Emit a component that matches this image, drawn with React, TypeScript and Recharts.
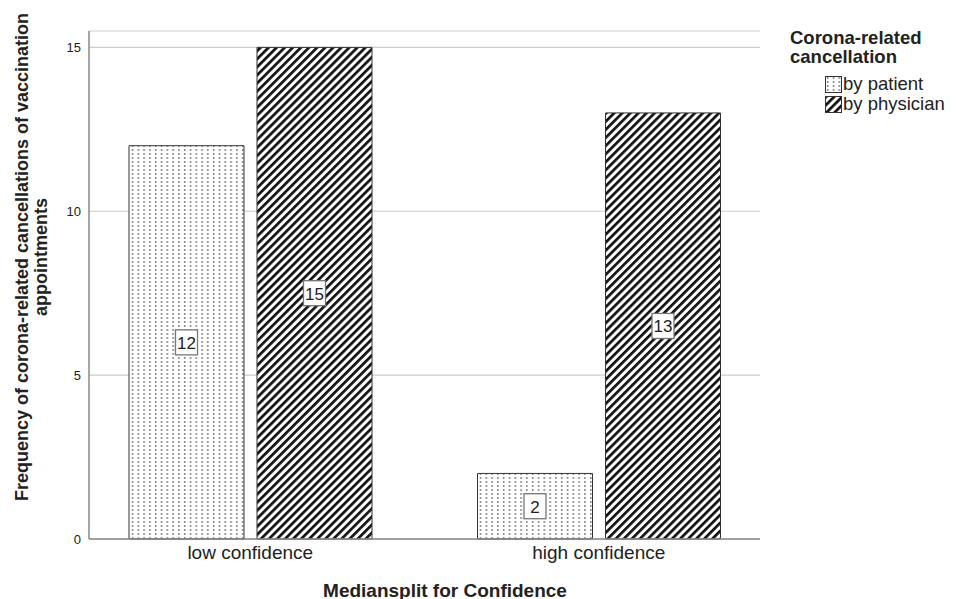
import React from "react"
import { Bar, BarChart, CartesianGrid, LabelList, XAxis, YAxis } from "recharts"

const categories = ["low confidence", "high confidence"]
const byPatient = [12, 2]
const byPhysician = [15, 13]
const yTicks = [0, 5, 10, 15]

const data = categories.map((name, i) => ({
  name,
  patient: byPatient[i],
  physician: byPhysician[i],
}))

const FONT = "'Liberation Sans', Arial, sans-serif"

const Patterns = () => (
  <svg width={0} height={0} style={{ position: "absolute" }}>
    <defs>
      <pattern id="dots" patternUnits="userSpaceOnUse" width={5.8} height={4}>
        <rect width={5.8} height={4} fill="#fff" />
        <rect x={2} y={1.3} width={1.4} height={1.4} fill="#444" />
      </pattern>
      <pattern id="stripes" patternUnits="userSpaceOnUse" width={5.7} height={5.7} patternTransform="rotate(45)">
        <rect width={5.7} height={5.7} fill="#fff" />
        <rect x={0} y={0} width={2.7} height={5.7} fill="#111" />
      </pattern>
    </defs>
  </svg>
)

const ValueBox = (props: any) => {
  const { x, y, width, height, value } = props
  const cx = x + width / 2
  const cy = y + height / 2
  return (
    <g>
      <rect x={cx - 11} y={cy - 12.5} width={22} height={25} fill="#fff" stroke="#777" strokeWidth={1.3} />
      <text x={cx} y={cy + 1} textAnchor="middle" dominantBaseline="central" fontSize={17} fill="#222" fontFamily={FONT}>
        {value}
      </text>
    </g>
  )
}

const XTick = (props: any) => {
  const { x, y, payload } = props
  return (
    <text x={x} y={y + 5} textAnchor="middle" dominantBaseline="central" fontSize={19} fill="#222" fontFamily={FONT}>
      {payload.value}
    </text>
  )
}

const YTick = (props: any) => {
  const { x, y, payload } = props
  return (
    <text x={x} y={y} textAnchor="end" dominantBaseline="central" fontSize={13} fill="#222" fontFamily={FONT}>
      {payload.value}
    </text>
  )
}

const YTitle = () => (
  <g fontFamily={FONT} fontWeight="bold" fontSize={18} fill="#222">
    <text x={14} y={249} textAnchor="middle" dominantBaseline="central" transform="rotate(-90, 14, 249)">
      Frequency of corona-related cancellations of vaccination
    </text>
    <text x={33} y={249} textAnchor="middle" dominantBaseline="central" transform="rotate(-90, 33, 249)">
      appointments
    </text>
  </g>
)

const XTitle = () => (
  <text x={437} y={582} textAnchor="middle" dominantBaseline="central" fontFamily={FONT} fontWeight="bold" fontSize={19} fill="#222">
    Mediansplit for Confidence
  </text>
)

const Swatch = ({ fill }: { fill: string }) => (
  <svg width={17} height={17} style={{ display: "block", flexShrink: 0 }}>
    <rect x={0.5} y={0.5} width={16} height={16} fill={fill} stroke="#333" strokeWidth={1} />
  </svg>
)

const LegendBox = () => (
  <div style={{ position: "absolute", left: 782, top: 20, width: 158, fontFamily: FONT, color: "#222", whiteSpace: "nowrap" }}>
    <div style={{ fontWeight: "bold", fontSize: 18.5, lineHeight: "19px" }}>
      Corona-related
      <br />
      cancellation
    </div>
    <div style={{ marginLeft: 35, marginTop: 8 }}>
      <div style={{ display: "flex", alignItems: "center", fontSize: 18.5, lineHeight: "20px" }}>
        <Swatch fill="url(#dots)" />
        <span style={{ marginLeft: 1 }}>by patient</span>
      </div>
      <div style={{ display: "flex", alignItems: "center", fontSize: 18.5, lineHeight: "20px" }}>
        <Swatch fill="url(#stripes)" />
        <span style={{ marginLeft: 1 }}>by physician</span>
      </div>
    </div>
  </div>
)

export default function App() {
  return (
    <div style={{ position: "relative", width: 940, height: 591 }}>
      <Patterns />
      <BarChart
        width={940}
        height={591}
        data={data}
        margin={{ top: 23, right: 188, left: 0, bottom: 0 }}
        barSize={115}
        barGap={13}
      >
        <CartesianGrid vertical={false} stroke="#cccccc" strokeWidth={1.2} />
        <XAxis
          dataKey="name"
          height={60}
          padding={{ left: -13, right: -13 }}
          axisLine={{ stroke: "#888", strokeWidth: 1.5 }}
          tickLine={false}
          tick={<XTick />}
          interval={0}
        />
        <YAxis
          width={81}
          domain={[0, 15.5]}
          ticks={yTicks}
          axisLine={{ stroke: "#888", strokeWidth: 1.5 }}
          tickLine={false}
          tick={<YTick />}
        />
        <Bar dataKey="patient" fill="url(#dots)" stroke="#333" strokeWidth={1} isAnimationActive={false}>
          <LabelList dataKey="patient" content={<ValueBox />} />
        </Bar>
        <Bar dataKey="physician" fill="url(#stripes)" stroke="#333" strokeWidth={1} isAnimationActive={false}>
          <LabelList dataKey="physician" content={<ValueBox />} />
        </Bar>
        <YTitle />
        <XTitle />
      </BarChart>
      <LegendBox />
    </div>
  )
}
